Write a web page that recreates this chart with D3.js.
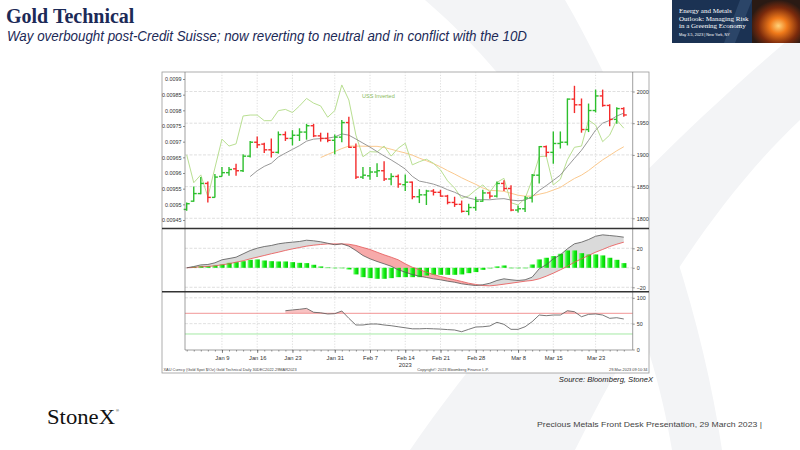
<!DOCTYPE html>
<html>
<head>
<meta charset="utf-8">
<script src="https://cdn.jsdelivr.net/npm/d3@7"></script>
<style>
  body { margin: 0; background: #fff; }
  svg { display: block; font-family: "Liberation Sans", Arial, sans-serif; }
</style>
</head>
<body>
<div id="wrapper"></div>
<script>
// trading days shown on the Bloomberg chart
const dates = [
  "2022-12-30","2023-01-03","2023-01-04","2023-01-05","2023-01-06",
  "2023-01-09","2023-01-10","2023-01-11","2023-01-12","2023-01-13",
  "2023-01-16","2023-01-17","2023-01-18","2023-01-19","2023-01-20",
  "2023-01-23","2023-01-24","2023-01-25","2023-01-26","2023-01-27",
  "2023-01-30","2023-01-31","2023-02-01","2023-02-02","2023-02-03",
  "2023-02-06","2023-02-07","2023-02-08","2023-02-09","2023-02-10",
  "2023-02-13","2023-02-14","2023-02-15","2023-02-16","2023-02-17",
  "2023-02-20","2023-02-21","2023-02-22","2023-02-23","2023-02-24",
  "2023-02-27","2023-02-28","2023-03-01","2023-03-02","2023-03-03",
  "2023-03-06","2023-03-07","2023-03-08","2023-03-09","2023-03-10",
  "2023-03-13","2023-03-14","2023-03-15","2023-03-16","2023-03-17",
  "2023-03-20","2023-03-21","2023-03-22","2023-03-23","2023-03-24",
  "2023-03-27","2023-03-28","2023-03-29"
];

// gold spot OHLC ($/oz)
const opens = [
  1814, 1827, 1839, 1855, 1833, 1866, 1872, 1878, 1875, 1898,
  1920, 1917, 1908, 1904, 1932, 1926, 1931, 1936, 1946, 1930,
  1926, 1923, 1928, 1951, 1912, 1865, 1867, 1873, 1875, 1862,
  1866, 1853, 1857, 1834, 1837, 1843, 1841, 1835, 1825, 1822,
  1811, 1817, 1827, 1840, 1835, 1855, 1847, 1813, 1815, 1832,
  1868, 1913, 1904, 1918, 1920, 1988, 1979, 1940, 1970, 1993,
  1978, 1956, 1973
];
const highs = [
  1825, 1850, 1865, 1858, 1870, 1881, 1881, 1886, 1901, 1922,
  1929, 1919, 1926, 1937, 1937, 1939, 1942, 1949, 1949, 1935,
  1935, 1932, 1955, 1960, 1918, 1881, 1881, 1887, 1890, 1871,
  1869, 1869, 1858, 1846, 1845, 1846, 1845, 1837, 1834, 1828,
  1823, 1834, 1845, 1842, 1858, 1860, 1852, 1820, 1835, 1870,
  1914, 1915, 1937, 1937, 1989, 2009, 1989, 1981, 2003, 2003,
  1980, 1975, 1975
];
const lows = [
  1812, 1826, 1838, 1825, 1833, 1866, 1867, 1867, 1873, 1896,
  1911, 1903, 1896, 1902, 1922, 1915, 1922, 1924, 1928, 1921,
  1920, 1901, 1920, 1911, 1862, 1862, 1861, 1865, 1859, 1852,
  1848, 1843, 1830, 1824, 1821, 1836, 1834, 1822, 1818, 1809,
  1805, 1812, 1826, 1831, 1833, 1843, 1811, 1809, 1810, 1825,
  1855, 1897, 1886, 1910, 1915, 1966, 1935, 1936, 1967, 1976,
  1945, 1949, 1960
];
const closes = [
  1823, 1839, 1855, 1833, 1865, 1872, 1877, 1875, 1898, 1920,
  1916, 1908, 1904, 1932, 1926, 1931, 1936, 1946, 1930, 1926,
  1923, 1928, 1951, 1912, 1865, 1868, 1873, 1875, 1862, 1866,
  1854, 1857, 1834, 1837, 1843, 1841, 1835, 1825, 1822, 1811,
  1817, 1827, 1840, 1835, 1855, 1847, 1813, 1815, 1832, 1868,
  1913, 1904, 1918, 1920, 1988, 1979, 1940, 1970, 1993, 1978,
  1956, 1973, 1963
];

// 10D (grey) and 20D (orange) averages as plotted
const ma10 = [
  null, null, null, null, null, null, null, null, null, 1865.8,
  1875.0, 1881.9, 1886.8, 1896.7, 1902.8, 1908.7, 1914.6, 1921.7, 1924.9, 1925.7,
  1926.4, 1928.4, 1933.1, 1931.1, 1925.0, 1918.6, 1912.3, 1905.2, 1898.4, 1892.1,
  1885.2, 1877.7, 1866.2, 1858.7, 1856.5, 1853.9, 1850.1, 1845.1, 1841.1, 1835.7,
  1832.0, 1829.4, 1829.4, 1829.2, 1830.4, 1831.0, 1828.8, 1827.7, 1828.6, 1834.3,
  1843.9, 1851.6, 1859.8, 1868.2, 1881.5, 1894.6, 1907.3, 1922.9, 1939.1, 1950.1,
  1954.4, 1961.3, 1965.9
];
const ma20 = [
  null, null, null, null, null, null, null, null, null, null,
  null, null, null, null, null, null, null, null, null, 1895.8,
  1900.7, 1905.2, 1910.0, 1913.9, 1913.9, 1913.7, 1913.5, 1913.5, 1911.7, 1908.9,
  1905.8, 1903.1, 1899.7, 1894.9, 1890.8, 1886.3, 1881.2, 1875.2, 1869.8, 1863.9,
  1858.6, 1853.6, 1847.8, 1844.0, 1843.5, 1842.5, 1839.5, 1836.4, 1834.9, 1835.0,
  1838.0, 1840.5, 1844.6, 1848.7, 1856.0, 1862.8, 1868.1, 1875.3, 1883.9, 1892.2,
  1899.2, 1906.5, 1912.9
];

// "USS Inverted" line, left axis
const ussInverted = [
  0.009658, 0.009569, 0.009594, 0.009524, 0.009616, 0.009708, 0.009686, 0.009693, 0.009782, 0.009785,
  0.009785, 0.009767, 0.009767, 0.009799, 0.009803, 0.009793, 0.009814, 0.009838, 0.009823, 0.009814,
  0.009778, 0.009799, 0.009881, 0.009833, 0.009721, 0.009652, 0.009668, 0.009667, 0.009686, 0.009654,
  0.009679, 0.009695, 0.009626, 0.009636, 0.009644, 0.009631, 0.009610, 0.009575, 0.009552, 0.009519,
  0.009527, 0.009546, 0.009562, 0.009539, 0.009570, 0.009583, 0.009505, 0.009498, 0.009519, 0.009578,
  0.009652, 0.009654, 0.009562, 0.009580, 0.009642, 0.009682, 0.009686, 0.009769, 0.009753, 0.009700,
  0.009721, 0.009769, 0.009743
];

// MACD panel
const macdLine = [
  0, 1.3, 3, 3.4, 5.1, 8.2, 9.5, 10.9, 14.3, 17.7,
  20.1, 21.8, 22.9, 24.6, 25.6, 26.3, 27, 28.3, 27.7, 26.7,
  25.2, 23.6, 24.6, 22.2, 17.7, 12.6, 9.2, 6.5, 4.1, 1.6,
  -2, -4.5, -6.9, -8.6, -9.9, -11.3, -12.3, -13.7, -14.8, -16.4,
  -17.4, -18.2, -17.4, -15.8, -13, -11.3, -12.3, -13, -12.3, -9.6,
  -1, 3.1, 9.2, 13.3, 19.5, 24.6, 26.3, 29, 32.4, 33.8,
  33.1, 32.4, 31.4
];
const signalLine = [
  0, 0.4, 1, 1.4, 2, 3.1, 4.1, 5.8, 7.2, 9.2,
  10.9, 12.6, 14.4, 16, 17.8, 19.4, 20.8, 22.2, 23.2, 23.9,
  24.5, 24.5, 24.5, 24.2, 22.9, 20.8, 18.8, 16, 13.3, 10.9,
  8.2, 4.1, 0.6, -1.8, -4.5, -6.9, -8.9, -10.6, -12.3, -14,
  -15.8, -17.1, -18.2, -18.5, -17.8, -16.8, -15.8, -14.8, -13.7, -13,
  -11.3, -8.6, -5.5, -2.1, 1.6, 5.7, 9.2, 12.6, 16, 18.8,
  21.8, 24.2, 26.3
];
const histogram = [
  0, 1.0, 1.7, 1.7, 2.4, 3.4, 5.1, 5.8, 6.8, 8.2,
  8.6, 7.5, 6.8, 6.5, 6.5, 5.8, 5.1, 4.8, 3.1, 1.4,
  0.3, 0.1, 0.1, -1.7, -6.8, -9.6, -10.6, -11.3, -11.3, -10.6,
  -9.6, -9.6, -9.6, -9.6, -7.9, -7.2, -7.2, -7.2, -7.2, -6.8,
  -5.5, -4.4, -2.1, -0.3, 1.4, 2.4, 0.1, 0.1, 0.1, 3.4,
  8.6, 10.3, 12, 14.4, 17.8, 17.8, 15, 13.7, 13.7, 12.7,
  10.3, 8.2, 4.8
];

// RSI panel
const rsi = [
  null, null, null, null, null, null, null, null, null, null,
  null, null, null, null, 75, 76.5, 77.8, 79.5, 72, 71,
  68.7, 69.3, 74.5, 60.3, 47.4, 47.4, 49.3, 49.3, 47.4, 46,
  44, 42, 40, 40, 40.5, 40, 39.5, 38.5, 37.7, 34.4,
  39, 43.5, 44, 45.5, 52.6, 48.7, 39, 39, 44, 53.8,
  66.7, 65.4, 66.7, 66.7, 75, 73.1, 63.4, 68, 68.7, 66.7,
  60.3, 61.5, 59
];

// axes
const tickDates = ["2023-01-09","2023-01-16","2023-01-23","2023-01-31","2023-02-07","2023-02-14",
  "2023-02-21","2023-02-28","2023-03-08","2023-03-15","2023-03-23"];
const tickLabels = ["Jan 9","Jan 16","Jan 23","Jan 31","Feb 7","Feb 14","Feb 21","Feb 28","Mar 8","Mar 15","Mar 23"];
const leftTicks = [0.00945, 0.0095, 0.00955, 0.0096, 0.00965, 0.0097, 0.00975, 0.0098, 0.00985, 0.0099];
const leftTickLabels = ["0.00945","0.0095","0.00955","0.0096","0.00965","0.0097","0.00975","0.0098","0.00985","0.0099"];
const rightTicks = [1800, 1850, 1900, 1950, 2000];
const macdTicks = [-20, 0, 20];
const rsiTicks = [0, 50, 100];
const rsiBands = [70, 30];

function drawChart() {
  const rows = dates.map((date, i) => ({
    date, open: opens[i], high: highs[i], low: lows[i], close: closes[i],
    ma10: ma10[i], ma20: ma20[i], uss: ussInverted[i],
    macd: macdLine[i], signal: signalLine[i], hist: histogram[i], rsi: rsi[i]
  }));

  //* Step 1. Dimensions
  const frame = { left: 162, top: 72, right: 649, bottom: 373 };
  const plot = { left: 185, right: 632.7 };
  const panels = {
    main: { top: 72, bottom: 228.5 },
    macd: { top: 228.5, bottom: 291.7 },
    rsi: { top: 291.7, bottom: 350 }
  };

  //* Step 2. Canvas
  const svg = d3.select("#wrapper").append("svg")
    .attr("width", 800).attr("height", 450);
  const defs = svg.append("defs");

  // faint X watermark of the slide
  svg.append("path")
    .attr("d", "M425,0 L565,0 C640,130 700,300 722,450 L672,450 C648,300 565,120 425,0 Z")
    .attr("fill", "#f3f4f6");
  svg.append("path")
    .attr("d", "M410,450 L575,450 C640,320 715,200 800,120 L800,30 C680,130 520,290 410,450 Z")
    .attr("fill", "#f3f4f6");

  // title block
  svg.append("text").attr("x", 6).attr("y", 23)
    .style("font-family", "'Liberation Serif', 'DejaVu Serif', serif")
    .style("font-weight", "bold").style("font-size", "20px")
    .attr("fill", "#1c2a57").text("Gold Technical");
  svg.append("text").attr("x", 7).attr("y", 41)
    .style("font-style", "italic").style("font-size", "14.5px")
    .attr("textLength", 520).attr("lengthAdjust", "spacingAndGlyphs")
    .attr("fill", "#1c2a57")
    .text("Way overbought post-Credit Suisse; now reverting to neutral and in conflict with the 10D");

  // event banner (top right)
  const fire = defs.append("radialGradient").attr("id", "fire")
    .attr("cx", "55%").attr("cy", "60%").attr("r", "60%");
  fire.append("stop").attr("offset", "0%").attr("stop-color", "#ffd27a");
  fire.append("stop").attr("offset", "30%").attr("stop-color", "#f07a1a");
  fire.append("stop").attr("offset", "70%").attr("stop-color", "#7a2a0c");
  fire.append("stop").attr("offset", "100%").attr("stop-color", "#2a1a14");
  svg.append("rect").attr("x", 672).attr("y", 0).attr("width", 128).attr("height", 43).attr("fill", "#1b3253");
  svg.append("path").attr("d", "M740,0 L752,0 L735,43 L724,43 Z").attr("fill", "#2b4568");
  svg.append("rect").attr("x", 752).attr("y", 0).attr("width", 48).attr("height", 43).attr("fill", "url(#fire)");
  const bannerLines = ["Energy and Metals", "Outlook: Managing Risk", "in a Greening Economy"];
  svg.append("g").selectAll("text").data(bannerLines).join("text")
    .attr("x", 679).attr("y", (d, i) => 13 + i * 7.5)
    .style("font-family", "'Liberation Serif', serif").style("font-size", "7px")
    .attr("fill", "#ffffff").text((d) => d);
  svg.append("text").attr("x", 679).attr("y", 36)
    .style("font-size", "3.8px").attr("fill", "#ffffff")
    .text("May 3-5, 2023 | New York, NY");

  // chart frame
  svg.append("rect")
    .attr("x", frame.left).attr("y", frame.top)
    .attr("width", frame.right - frame.left).attr("height", frame.bottom - frame.top)
    .attr("fill", "#ffffff").attr("stroke", "#9a9a9a").attr("stroke-width", 0.8);

  //* Step 3. Scales
  const xScale = d3.scalePoint().domain(dates).range([186.7, 623.8]);
  const yRight = d3.scaleLinear().domain([1800, 2000]).range([218.3, 91.5]);
  const yLeft = d3.scaleLinear().domain([0.00945, 0.0099]).range([220, 79]);
  const yMacd = d3.scaleLinear().domain([-20, 20]).range([287.3, 248.3]);
  const yRsi = d3.scaleLinear().domain([0, 100]).range([349.5, 297.8]);

  //* Step 4. Grid
  const grid = svg.append("g");
  grid.selectAll(".vgrid").data(tickDates).join("line")
    .attr("x1", (d) => xScale(d)).attr("x2", (d) => xScale(d))
    .attr("y1", frame.top).attr("y2", panels.rsi.bottom)
    .attr("stroke", "#c8c8c8").attr("stroke-width", 0.6).attr("stroke-dasharray", "1.2,1.6");
  const hGrid = (values, scale) => grid.append("g").selectAll("line").data(values).join("line")
    .attr("x1", plot.left).attr("x2", plot.right)
    .attr("y1", (d) => scale(d)).attr("y2", (d) => scale(d))
    .attr("stroke", "#d2d2d2").attr("stroke-width", 0.7).attr("stroke-dasharray", "3,1.5");
  hGrid(rightTicks, yRight);
  hGrid(macdTicks, yMacd);
  hGrid([50, 100], yRsi);

  //* Step 5. Main panel
  const lineOn = (scale, key) => d3.line()
    .defined((d) => d[key] != null)
    .x((d) => xScale(d.date)).y((d) => scale(d[key]));

  svg.append("path").datum(rows).attr("d", lineOn(yRight, "ma20"))
    .attr("fill", "none").attr("stroke", "#fbc98e").attr("stroke-width", 1);
  svg.append("path").datum(rows).attr("d", lineOn(yLeft, "uss"))
    .attr("fill", "none").attr("stroke", "#b9df92").attr("stroke-width", 1);
  svg.append("path").datum(rows).attr("d", lineOn(yRight, "ma10"))
    .attr("fill", "none").attr("stroke", "#8c8c8c").attr("stroke-width", 0.9);

  const barColor = (d) => (d.close >= d.open ? "#2dbf2d" : "#f42c2c");
  const bars = svg.append("g").selectAll("g").data(rows).join("g")
    .attr("stroke", barColor).attr("stroke-width", 1.4);
  bars.append("line")
    .attr("x1", (d) => xScale(d.date)).attr("x2", (d) => xScale(d.date))
    .attr("y1", (d) => yRight(d.high)).attr("y2", (d) => yRight(d.low));
  bars.append("line")
    .attr("x1", (d) => xScale(d.date) - 3).attr("x2", (d) => xScale(d.date))
    .attr("y1", (d) => yRight(d.open)).attr("y2", (d) => yRight(d.open));
  bars.append("line")
    .attr("x1", (d) => xScale(d.date)).attr("x2", (d) => xScale(d.date) + 3)
    .attr("y1", (d) => yRight(d.close)).attr("y2", (d) => yRight(d.close));

  svg.append("text").attr("x", 362).attr("y", 98)
    .style("font-size", "5.5px").attr("fill", "#86b85a").text("USS Inverted");

  //* Step 6. MACD panel
  const xOf = (d) => xScale(d.date);
  defs.append("clipPath").attr("id", "above-signal").append("path").datum(rows)
    .attr("d", d3.area().x(xOf).y0(panels.macd.top).y1((d) => yMacd(d.signal)));
  defs.append("clipPath").attr("id", "below-signal").append("path").datum(rows)
    .attr("d", d3.area().x(xOf).y0(panels.macd.bottom).y1((d) => yMacd(d.signal)));
  const between = d3.area().x(xOf).y0((d) => yMacd(d.signal)).y1((d) => yMacd(d.macd));
  svg.append("path").datum(rows).attr("d", between)
    .attr("clip-path", "url(#above-signal)").attr("fill", "#dadada");
  svg.append("path").datum(rows).attr("d", between)
    .attr("clip-path", "url(#below-signal)").attr("fill", "#f7aaaa");

  const histGrad = defs.append("linearGradient").attr("id", "hist-grad");
  histGrad.append("stop").attr("offset", "0%").attr("stop-color", "#8dff8d");
  histGrad.append("stop").attr("offset", "45%").attr("stop-color", "#16f016");
  histGrad.append("stop").attr("offset", "100%").attr("stop-color", "#00c600");
  svg.append("g").selectAll("rect").data(rows.filter((d) => d.hist !== 0)).join("rect")
    .attr("x", (d) => xScale(d.date) - 2.6).attr("width", 5.2)
    .attr("y", (d) => Math.min(yMacd(d.hist), yMacd(0)))
    .attr("height", (d) => Math.max(0.6, Math.abs(yMacd(d.hist) - yMacd(0))))
    .attr("fill", "url(#hist-grad)");

  svg.append("path").datum(rows).attr("d", lineOn(yMacd, "signal"))
    .attr("fill", "none").attr("stroke", "#e65353").attr("stroke-width", 0.8);
  svg.append("path").datum(rows).attr("d", lineOn(yMacd, "macd"))
    .attr("fill", "none").attr("stroke", "#555555").attr("stroke-width", 0.8);

  //* Step 7. RSI panel
  defs.append("clipPath").attr("id", "rsi-over").append("rect")
    .attr("x", plot.left).attr("y", panels.rsi.top)
    .attr("width", plot.right - plot.left).attr("height", yRsi(70) - panels.rsi.top);
  svg.append("path").datum(rows.filter((d) => d.rsi != null))
    .attr("d", d3.area().x(xOf).y0(yRsi(70)).y1((d) => yRsi(d.rsi)))
    .attr("clip-path", "url(#rsi-over)").attr("fill", "#f8c2c2");
  svg.append("g").selectAll("line").data(rsiBands).join("line")
    .attr("x1", plot.left).attr("x2", plot.right)
    .attr("y1", (d) => yRsi(d)).attr("y2", (d) => yRsi(d))
    .attr("stroke", (d) => (d === 70 ? "#f08c8c" : "#9be69b")).attr("stroke-width", 0.9);
  svg.append("path").datum(rows).attr("d", lineOn(yRsi, "rsi"))
    .attr("fill", "none").attr("stroke", "#555555").attr("stroke-width", 0.8);

  //* Step 8. Axes and frame lines
  const styleAxis = (g) => {
    g.select(".domain").remove();
    g.selectAll("line").attr("stroke", "#444").attr("stroke-width", 0.6);
    g.selectAll("text").style("font-size", "5.4px").attr("fill", "#333");
  };
  svg.append("g").attr("transform", `translate(${plot.left},0)`)
    .call(d3.axisLeft(yLeft).tickValues(leftTicks).tickSize(2).tickPadding(1.5)
      .tickFormat((d, i) => leftTickLabels[i]))
    .call(styleAxis);
  svg.append("g").attr("transform", `translate(${plot.right},0)`)
    .call(d3.axisRight(yRight).tickValues(rightTicks).tickSize(2).tickPadding(2).tickFormat(d3.format("d")))
    .call(styleAxis);
  svg.append("g").attr("transform", `translate(${plot.right},0)`)
    .call(d3.axisRight(yMacd).tickValues(macdTicks).tickSize(2).tickPadding(2).tickFormat(d3.format("d")))
    .call(styleAxis);
  svg.append("g").attr("transform", `translate(${plot.right},0)`)
    .call(d3.axisRight(yRsi).tickValues(rsiTicks).tickSize(2).tickPadding(2).tickFormat(d3.format("d")))
    .call(styleAxis);

  svg.append("g").attr("transform", `translate(0,${panels.rsi.bottom})`)
    .call(d3.axisBottom(xScale).tickValues(dates).tickSize(1.5).tickFormat(""))
    .call(styleAxis);
  const xLabels = svg.append("g").attr("transform", `translate(0,${panels.rsi.bottom})`)
    .call(d3.axisBottom(xScale).tickValues(tickDates).tickSize(3).tickPadding(2.5)
      .tickFormat((d, i) => tickLabels[i]))
    .call(styleAxis);
  xLabels.selectAll("text").style("font-size", "5.8px");
  svg.append("text").attr("x", xScale("2023-02-14")).attr("y", 366.5)
    .attr("text-anchor", "middle").style("font-size", "5.8px").attr("fill", "#333").text("2023");

  const axisLines = [
    { x1: plot.left, x2: plot.left, y1: frame.top, y2: panels.rsi.bottom },
    { x1: plot.right, x2: plot.right, y1: frame.top, y2: panels.rsi.bottom },
    { x1: plot.left, x2: plot.right, y1: panels.rsi.bottom, y2: panels.rsi.bottom }
  ];
  svg.append("g").selectAll("line").data(axisLines).join("line")
    .attr("x1", (d) => d.x1).attr("x2", (d) => d.x2).attr("y1", (d) => d.y1).attr("y2", (d) => d.y2)
    .attr("stroke", "#777").attr("stroke-width", 0.7);
  svg.append("g").selectAll("line").data([panels.macd.top, panels.rsi.top]).join("line")
    .attr("x1", frame.left).attr("x2", frame.right).attr("y1", (d) => d).attr("y2", (d) => d)
    .attr("stroke", "#333").attr("stroke-width", 1.6);

  // bloomberg footnotes
  const foot = svg.append("g").style("font-size", "3.9px").attr("fill", "#444");
  foot.append("text").attr("x", frame.left + 1.5).attr("y", 370.5)
    .text("XAU Curncy (Gold Spot  $/Oz)  Gold Technical  Daily 30DEC2022-29MAR2023");
  foot.append("text").attr("x", 453).attr("y", 370.5).attr("text-anchor", "middle")
    .text("Copyright© 2023 Bloomberg Finance L.P.");
  foot.append("text").attr("x", frame.right - 1.5).attr("y", 370.5).attr("text-anchor", "end")
    .text("29-Mar-2023 09:10:34");

  //* Step 9. Slide footer
  svg.append("text").attr("x", 653).attr("y", 382).attr("text-anchor", "end")
    .style("font-style", "italic").style("font-size", "7.6px").attr("fill", "#222")
    .text("Source:  Bloomberg,  StoneX");
  svg.append("text").attr("x", 47).attr("y", 424)
    .style("font-family", "'Liberation Serif', serif").style("font-size", "21px")
    .attr("textLength", 68).attr("lengthAdjust", "spacingAndGlyphs")
    .attr("fill", "#111").text("StoneX");
  svg.append("text").attr("x", 116).attr("y", 412)
    .style("font-size", "4px").attr("fill", "#111").text("®");
  svg.append("text").attr("x", 537).attr("y", 427)
    .style("font-size", "8px").attr("textLength", 225).attr("lengthAdjust", "spacingAndGlyphs")
    .attr("fill", "#444").text("Precious Metals Front Desk Presentation, 29 March 2023 |");
}
drawChart();
</script>
</body>
</html>
